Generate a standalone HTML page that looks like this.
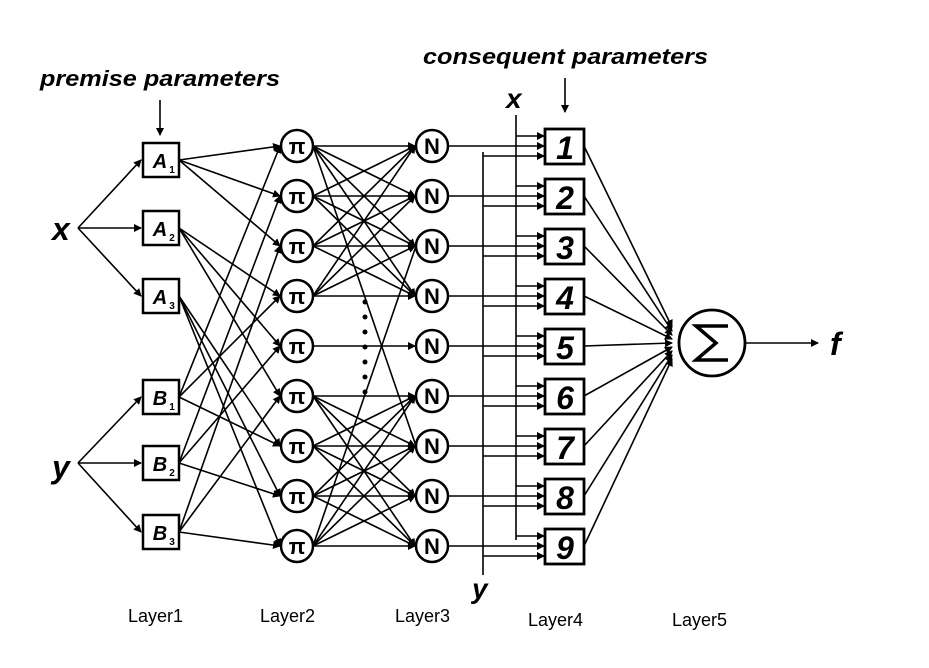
<!DOCTYPE html>
<html><head><meta charset="utf-8"><style>
html,body{margin:0;padding:0;background:#fff;}
svg{display:block;}
</style></head><body>
<svg id="s" width="929" height="668" xmlns="http://www.w3.org/2000/svg" font-family="Liberation Sans, sans-serif">
<defs><marker id="a" markerWidth="8" markerHeight="8" refX="7" refY="4" orient="auto" markerUnits="userSpaceOnUse"><path d="M0,0 L8,4 L0,8 z" fill="#000"/></marker></defs>
<g id="g" stroke="#000" stroke-width="1.6" fill="none"></g>
<text x="40" y="86" font-size="22" font-weight="bold" font-style="italic" textLength="240" lengthAdjust="spacingAndGlyphs">premise parameters</text>
<text x="423" y="64" font-size="22" font-weight="bold" font-style="italic" textLength="285" lengthAdjust="spacingAndGlyphs">consequent parameters</text>
<text x="52" y="240" font-size="32" font-weight="bold" font-style="italic">x</text>
<text x="52" y="478" font-size="32" font-weight="bold" font-style="italic">y</text>
<text x="506" y="108" font-size="28" font-weight="bold" font-style="italic">x</text>
<text x="472" y="598" font-size="28" font-weight="bold" font-style="italic">y</text>
<text x="830" y="355" font-size="32" font-weight="bold" font-style="italic">f</text>
<text x="128" y="622" font-size="18">Layer1</text>
<text x="260" y="622" font-size="18">Layer2</text>
<text x="395" y="622" font-size="18">Layer3</text>
<text x="528" y="626" font-size="18">Layer4</text>
<text x="672" y="626" font-size="18">Layer5</text>
</svg>
<script>
var g=document.getElementById('g'),s=document.getElementById('s'),NS='http://www.w3.org/2000/svg';
function el(t,a,p){var e=document.createElementNS(NS,t);for(var k in a)e.setAttribute(k,a[k]);(p||g).appendChild(e);return e;}
function L(x1,y1,x2,y2,arr){var e=el('line',{x1:x1,y1:y1,x2:x2,y2:y2});if(arr)e.setAttribute('marker-end','url(#a)');}
function T(x,y,t,sz,fs){var e=el('text',{x:x,y:y,'font-size':sz,'font-weight':'bold','font-style':fs||'normal','text-anchor':'middle'},s);e.textContent=t;return e;}
var Ay=[160,228,296],By=[397,463,532];
var P=[];for(var i=0;i<9;i++)P.push(146+50*i);
var px=297,nx=432,r=16,bx=545,bw=39,bh=35;
L(160,100,160,135,true);L(565,78,565,112,true);
Ay.forEach(function(y){L(78,228,141,y,true);});
By.forEach(function(y){L(78,463,141,y,true);});
function box(cx,cy,lab,sub){el('rect',{x:cx-18,y:cy-17,width:36,height:34,'stroke-width':2.5});T(cx-1,cy+8,lab,20,'italic');T(cx+11,cy+13,sub,10);}
Ay.forEach(function(y,i){box(161,y,'A',String(i+1));});
By.forEach(function(y,i){box(161,y,'B',String(i+1));});
for(var i=0;i<3;i++)for(var j=0;j<3;j++){L(179,Ay[i],px-r-1,P[i*3+j],true);L(179,By[j],px-r-1,P[i*3+j],true);}
for(var i=0;i<9;i++)for(var j=0;j<9;j++){
 if(i==4||j==4){if(i==j)L(px+r,P[i],nx-r-1,P[j],true);continue;}
 if((i<4)!=(j<4))continue;
 L(px+r,P[i],nx-r-1,P[j],true);}
L(px+r,P[0],nx-r,P[6]);L(px+r,P[8],nx-r,P[2]);
for(var k=0;k<7;k++)el('circle',{cx:365,cy:302+k*15,r:2.5,fill:'#000',stroke:'none'});
P.forEach(function(y){el('circle',{cx:px,cy:y,r:r,fill:'#fff','stroke-width':2.5});T(px,y+8,'π',22);});
P.forEach(function(y){el('circle',{cx:nx,cy:y,r:r,fill:'#fff','stroke-width':2.5});T(nx,y+8,'N',22);});
L(516,115,516,P[8]-6);L(483,P[0]+6,483,575);
for(var i=0;i<9;i++){var y=P[i];
 L(516,y-10,bx-1,y-10,true);L(nx+r,y,bx-1,y,true);L(483,y+10,bx-1,y+10,true);
 el('rect',{x:bx,y:y-17,width:bw,height:bh,fill:'#fff','stroke-width':2.8});
 T(bx+20,y+13,String(i+1),32,'italic');
 L(bx+bw,y,672,343+(i-4)*4,true);}
el('circle',{cx:712,cy:343,r:33,fill:'#fff','stroke-width':2.8});
el('path',{d:'M728,326 H696 L716,343 L696,360 H728','stroke-width':3.5});
L(746,343,818,343,true);
</script>
</body></html>
